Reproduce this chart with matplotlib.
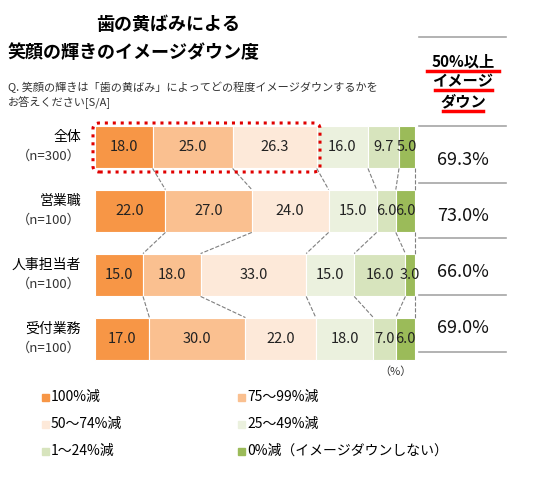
import matplotlib.pyplot as plt
from matplotlib.patches import Rectangle, FancyBboxPatch
from matplotlib.lines import Line2D

plt.rcParams['font.family'] = ['Noto Sans CJK JP', 'DejaVu Sans']

categories = ['全体', '営業職', '人事担当者', '受付業務']
sample_n = ['（n=300）', '（n=100）', '（n=100）', '（n=100）']
series_names = ['100%減', '75～99%減', '50～74%減', '25～49%減', '1～24%減',
                '0%減（イメージダウンしない）']
v100 = [18.0, 22.0, 15.0, 17.0]
v75 = [25.0, 27.0, 18.0, 30.0]
v50 = [26.3, 24.0, 33.0, 22.0]
v25 = [16.0, 15.0, 15.0, 18.0]
v1 = [9.7, 6.0, 16.0, 7.0]
v0 = [5.0, 6.0, 3.0, 6.0]
over50 = ['69.3%', '73.0%', '66.0%', '69.0%']

colors = ['#F79646', '#FAC090', '#FDE9D9', '#EBF1DE', '#D7E4BD', '#9BBB59']
W, H = 556, 480


def fx(x):
    return x / W


def fy(y):
    return 1 - y / H


fig = plt.figure(figsize=(5.56, 4.8), dpi=100)
ax = fig.add_axes([fx(95), fy(371), 320 / W, 256 / H])
ax.set_xlim(0, 100)
ax.set_ylim(3.5, -0.5)
ax.axis('off')

bh = 0.67
rows = range(len(categories))
left = [0.0] * len(categories)
bounds = []
for vals, c in zip([v100, v75, v50, v25, v1, v0], colors):
    ax.barh(list(rows), vals, left=left, height=bh, color=c,
            edgecolor='white', linewidth=0.8)
    for i in rows:
        ax.text(left[i] + vals[i] / 2, i, f'{vals[i]:.1f}', ha='center',
                va='center', fontsize=10.5, color='#222222')
    left = [l + v for l, v in zip(left, vals)]
    bounds.append(list(left))

# dashed connectors between rows
for b in bounds:
    for i in range(len(categories) - 1):
        ax.plot([b[i], b[i + 1]], [i + bh / 2, i + 1 - bh / 2], ls='--',
                color='#7F7F7F', lw=0.8, clip_on=False)

# red dotted highlight
hl = FancyBboxPatch((fx(93), fy(172)), fx(320) - fx(93), fy(123) - fy(172),
                    boxstyle='round,pad=0,rounding_size=0.012',
                    transform=fig.transFigure, fill=False, edgecolor='#E00000',
                    linestyle=(0, (1, 1.6)), lw=2.2)
fig.patches.append(hl)

# row labels
row_y = [147, 211, 275, 339]
for cat, n, y in zip(categories, sample_n, row_y):
    fig.text(fx(81), fy(y - 10), cat, ha='right', va='center', fontsize=10)
    fig.text(fx(81), fy(y + 9), n, ha='right', va='center', fontsize=9.5,
             color='#333333')

# titles
fig.text(fx(168), fy(24), '歯の黄ばみによる', ha='center', va='center',
         fontsize=13, fontweight='bold')
fig.text(fx(8), fy(52), '笑顔の輝きのイメージダウン度', ha='left', va='center',
         fontsize=13, fontweight='bold')
fig.text(fx(8), fy(87), 'Q. 笑顔の輝きは「歯の黄ばみ」によってどの程度イメージダウンするかを',
         ha='left', va='center', fontsize=8, color='#333333')
fig.text(fx(8), fy(103), 'お答えください[S/A]', ha='left', va='center',
         fontsize=8, color='#333333')

# right column
for y in [37, 126, 183, 238, 295, 352]:
    fig.lines.append(Line2D([fx(419), fx(506)], [fy(y), fy(y)],
                            transform=fig.transFigure, color='#A6A6A6', lw=1.2))
head = [('50%以上', 62, 427, 499, 71), ('イメージ', 81, 435, 492, 90),
        ('ダウン', 101, 443, 483, 111)]
for txt, y, x0, x1, uy in head:
    fig.text(fx(463), fy(y), txt, ha='center', va='center', fontsize=11,
             fontweight='bold')
    fig.lines.append(Line2D([fx(x0), fx(x1)], [fy(uy), fy(uy)],
                            transform=fig.transFigure, color='#FF0000', lw=2.5))
for txt, y in zip(over50, [160, 216, 272, 328]):
    fig.text(fx(463), fy(y), txt, ha='center', va='center', fontsize=13,
             color='#111111')

fig.text(fx(395), fy(372), '（%）', ha='center', va='center', fontsize=8,
         color='#333333')

# legend
leg_pos = [(42, 397), (238, 397), (42, 424), (238, 424), (42, 451), (238, 451)]
for name, c, (x, y) in zip(series_names, colors, leg_pos):
    fig.patches.append(Rectangle((fx(x), fy(y + 3.5)), 7 / W, 7 / H, color=c,
                                 transform=fig.transFigure))
    fig.text(fx(x + 9), fy(y), name, ha='left', va='center', fontsize=10)

fig.savefig('out.png', dpi=100)
